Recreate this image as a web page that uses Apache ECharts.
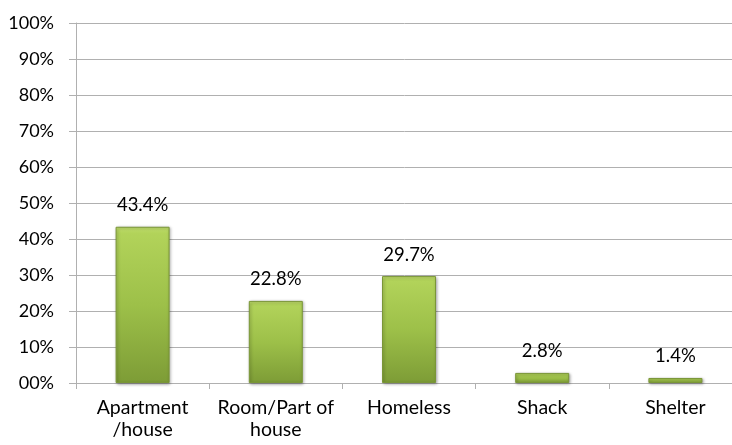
<!DOCTYPE html>
<html>
<head>
<meta charset="utf-8">
<script src="https://cdn.jsdelivr.net/npm/echarts@6/dist/echarts.min.js"></script>
<style>
html, body { margin: 0; padding: 0; background: #ffffff; }
#chart { width: 732px; height: 445px; }
</style>
</head>
<body>
<div id="chart"></div>
<script>
// Housing situation shares (percent)
const categories = ['Apartment\n/house', 'Room/Part of\nhouse', 'Homeless', 'Shack', 'Shelter'];
const shares = [43.4, 22.8, 29.7, 2.8, 1.4];
const yTicks = [0, 10, 20, 30, 40, 50, 60, 70, 80, 90, 100];

const FONT = 'Lato';
const gray = '#b0b0b0';

const chart = echarts.init(document.getElementById('chart'), null, { renderer: 'canvas' });

chart.setOption({
  animation: false,
  backgroundColor: '#ffffff',
  grid: { left: 76, right: -10, top: 23, bottom: 62, containLabel: false, outerBoundsMode: 'none' },
  xAxis: {
    type: 'category',
    data: categories,
    axisLine: { lineStyle: { color: gray, width: 1 } },
    axisTick: { show: true, length: 6, lineStyle: { color: gray } },
    axisLabel: {
      color: '#000000', fontFamily: FONT, fontSize: 19.5, lineHeight: 22, margin: 14,
      interval: 0
    }
  },
  yAxis: {
    type: 'value',
    min: yTicks[0],
    max: yTicks[yTicks.length - 1],
    interval: 10,
    axisLine: { show: true, lineStyle: { color: gray, width: 1 } },
    axisTick: { show: true, length: 7, lineStyle: { color: gray } },
    splitLine: { lineStyle: { color: gray, width: 1 } },
    axisLabel: {
      color: '#000000', fontFamily: FONT, fontSize: 18, margin: 22,
      formatter: v => (v === 0 ? '00%' : v + '%')
    }
  },
  series: [{
    type: 'bar',
    data: shares,
    barWidth: 54,
    itemStyle: {
      color: new echarts.graphic.LinearGradient(0, 0, 0, 1, [
        { offset: 0, color: '#c8e472' },
        { offset: 0.04, color: '#b2d35a' },
        { offset: 0.5, color: '#9dc049' },
        { offset: 1, color: '#7d9c36' }
      ]),
      borderColor: '#7a9637',
      borderWidth: 1,
      shadowColor: 'rgba(0,0,0,0.35)',
      shadowBlur: 3,
      shadowOffsetX: 1,
      shadowOffsetY: 1
    },
    label: {
      show: true,
      position: 'top',
      distance: 12,
      color: '#000000',
      fontFamily: FONT,
      fontSize: 18.5,
      formatter: p => p.value.toFixed(1) + '%'
    }
  }]
});
</script>
</body>
</html>
